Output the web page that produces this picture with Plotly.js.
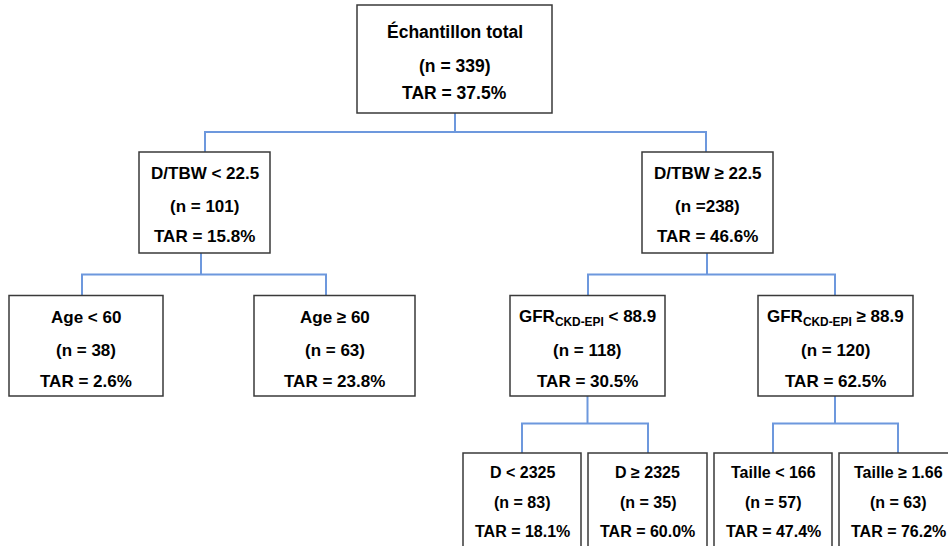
<!DOCTYPE html>
<html>
<head>
<meta charset="utf-8">
<script src="https://cdn.plot.ly/plotly-3.0.1.min.js"></script>
<style>html,body{margin:0;padding:0;background:#fff;}#chart{width:948px;height:546px;}</style>
</head>
<body>
<div id="chart"></div>
<script>
// ---- Data (decision tree nodes) ----
const nodeLabels = [
  "Échantillon total",
  "D/TBW &lt; 22.5",
  "D/TBW ≥ 22.5",
  "Age &lt; 60",
  "Age ≥ 60",
  "GFR<sub>CKD-EPI</sub> &lt; 88.9",
  "GFR<sub>CKD-EPI</sub> ≥ 88.9",
  "D &lt; 2325",
  "D ≥ 2325",
  "Taille &lt; 166",
  "Taille ≥ 1.66"
];
const nodeN = [339, 101, 238, 38, 63, 118, 120, 83, 35, 57, 63];
const nodeTAR = [37.5, 15.8, 46.6, 2.6, 23.8, 30.5, 62.5, 18.1, 60.0, 47.4, 76.2];
const nodeParent = [-1, 0, 0, 1, 1, 2, 2, 5, 5, 6, 6];
const nodeLevel = [0, 1, 1, 2, 2, 2, 2, 3, 3, 3, 3];
const nSeparator = [" = ", " = ", " =", " = ", " = ", " = ", " = ", " = ", " = ", " = ", " = "];

// ---- Layout (positions in pixel-like axis units) ----
const boxX0 = [357, 139, 642, 9, 254, 510, 758, 463, 588, 714, 839];
const boxX1 = [552, 270, 773, 163, 415, 665, 913, 581, 707, 832, 957];
const levelTop = [5, 152, 295.5, 453];
const levelBottom = [113, 253, 396, 560];
const inX = [null, 205, 706, 82, 326, 588, 835, 522, 648, 773, 898];
const outX = {0: 455, 1: 201, 2: 707, 5: 587.5, 6: 835};
const barY = [132, 274.5, 423.5];
const textOffsets = [[26, 61, 88], [21.5, 54, 84], [22, 55, 86], [19.5, 49.5, 78]];
const fontSizes = [17.5, 17, 17, 16];

const lineColor = "#6d98dd";
const boxColor = "#3a3a3a";
const fontFam = "Liberation Sans, Arial, sans-serif";

const shapes = [];
const annotations = [];

// connectors
Object.keys(outX).forEach(k => {
  const p = +k;
  const children = nodeParent.map((q, i) => q === p ? i : -1).filter(i => i >= 0);
  const lvl = nodeLevel[p];
  const by = barY[lvl];
  shapes.push({type: "line", xref: "x", yref: "y", x0: outX[p], x1: outX[p], y0: levelBottom[lvl], y1: by,
    line: {color: lineColor, width: 2}});
  const xs = children.map(c => inX[c]);
  shapes.push({type: "line", xref: "x", yref: "y", x0: Math.min(...xs) - 1, x1: Math.max(...xs) + 1, y0: by, y1: by,
    line: {color: lineColor, width: 2}});
  children.forEach(c => {
    shapes.push({type: "line", xref: "x", yref: "y", x0: inX[c], x1: inX[c], y0: by, y1: levelTop[nodeLevel[c]],
      line: {color: lineColor, width: 2}});
  });
});

// boxes and text
nodeLabels.forEach((lab, i) => {
  const lvl = nodeLevel[i];
  const top = levelTop[lvl];
  shapes.push({type: "rect", xref: "x", yref: "y", x0: boxX0[i], x1: boxX1[i], y0: top, y1: levelBottom[lvl],
    line: {color: boxColor, width: 1.5}, fillcolor: "#ffffff"});
  const cx = (boxX0[i] + boxX1[i]) / 2;
  const lines = [lab, "(n" + nSeparator[i] + nodeN[i] + ")", "TAR = " + nodeTAR[i].toFixed(1) + "%"];
  lines.forEach((t, j) => {
    annotations.push({text: "<b>" + t + "</b>", x: cx, y: top + textOffsets[lvl][j], xref: "x", yref: "y",
      showarrow: false, xanchor: "center", yanchor: "middle",
      font: {family: fontFam, size: fontSizes[lvl], color: "#000"}});
  });
});

const layout = {
  width: 948, height: 546,
  margin: {l: 0, r: 0, t: 0, b: 0},
  paper_bgcolor: "#ffffff", plot_bgcolor: "#ffffff",
  xaxis: {range: [0, 948], visible: false, fixedrange: true},
  yaxis: {range: [546, 0], visible: false, fixedrange: true},
  showlegend: false,
  shapes: shapes,
  annotations: annotations
};

Plotly.newPlot("chart", [{x: [], y: [], type: "scatter", mode: "markers", hoverinfo: "skip"}], layout,
  {displayModeBar: false, staticPlot: true});
</script>
</body>
</html>
